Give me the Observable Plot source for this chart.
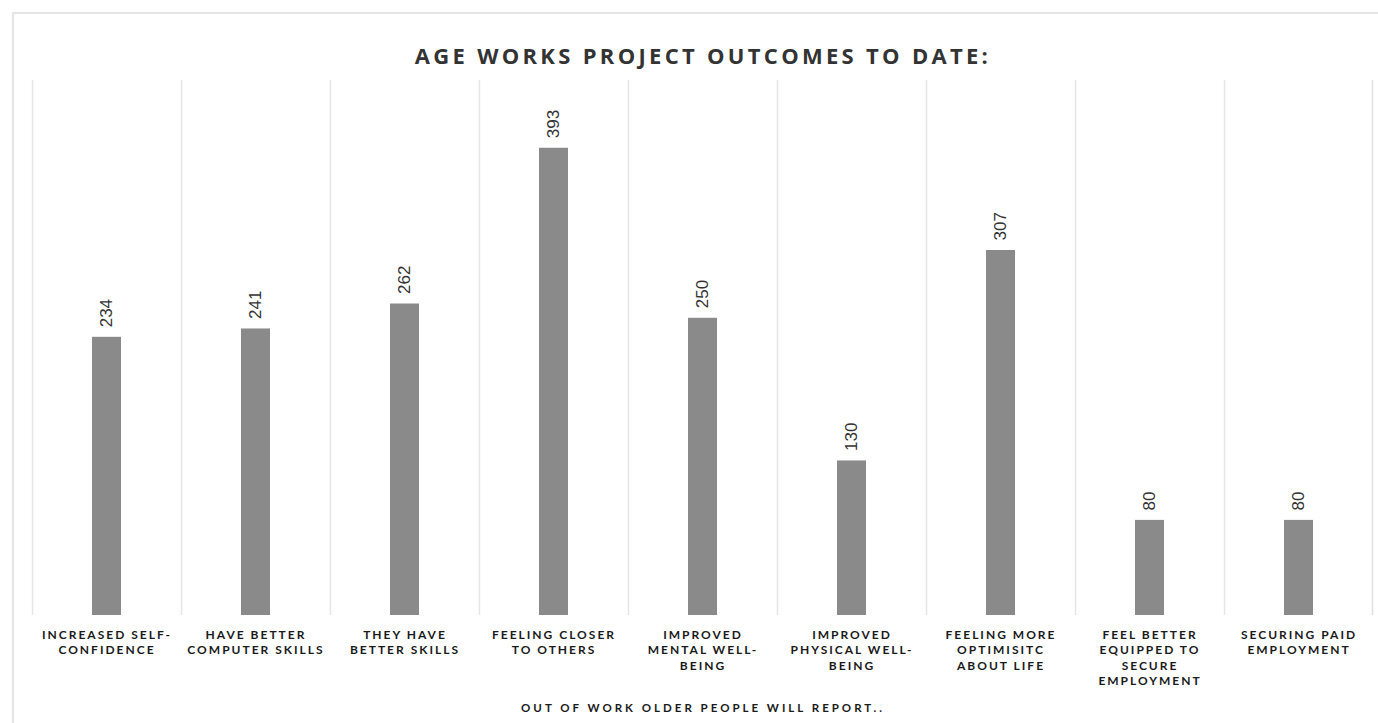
<!DOCTYPE html>
<html>
<head>
<meta charset="utf-8">
<script src="https://cdn.jsdelivr.net/npm/d3@7"></script>
<script src="https://cdn.jsdelivr.net/npm/@observablehq/plot@0.6"></script>
<style>
  html, body { margin: 0; padding: 0; background: #fff; }
  #wrap { position: relative; width: 1378px; height: 723px; overflow: hidden; }
  #border { position: absolute; left: 12px; top: 12px; width: 1380px; height: 740px;
            border-left: 2px solid #e4e4e4; border-top: 2px solid #e4e4e4; box-sizing: border-box; }
  #chart { position: absolute; left: 0; top: 0; }
</style>
</head>
<body>
<div id="wrap">
  <div id="border"></div>
  <div id="chart"></div>
</div>
<script>
const categories = [
  "INCREASED SELF-CONFIDENCE",
  "HAVE BETTER COMPUTER SKILLS",
  "THEY HAVE BETTER SKILLS",
  "FEELING CLOSER TO OTHERS",
  "IMPROVED MENTAL WELL-BEING",
  "IMPROVED PHYSICAL WELL-BEING",
  "FEELING MORE OPTIMISITC ABOUT LIFE",
  "FEEL BETTER EQUIPPED TO SECURE EMPLOYMENT",
  "SECURING PAID EMPLOYMENT"
];
const tickLabels = [
  "INCREASED SELF-\nCONFIDENCE",
  "HAVE BETTER\nCOMPUTER SKILLS",
  "THEY HAVE\nBETTER SKILLS",
  "FEELING CLOSER\nTO OTHERS",
  "IMPROVED\nMENTAL WELL-\nBEING",
  "IMPROVED\nPHYSICAL WELL-\nBEING",
  "FEELING MORE\nOPTIMISITC\nABOUT LIFE",
  "FEEL BETTER\nEQUIPPED TO\nSECURE\nEMPLOYMENT",
  "SECURING PAID\nEMPLOYMENT"
];
const values = [234, 241, 262, 393, 250, 130, 307, 80, 80];
const title = "AGE WORKS PROJECT OUTCOMES TO DATE:";
const xLabel = "OUT OF WORK OLDER PEOPLE WILL REPORT..";

const data = categories.map((c, i) => ({category: c, value: values[i]}));
const labelOf = new Map(categories.map((c, i) => [c, tickLabels[i]]));

const W = 1378, H = 723;
const mL = 32, mR = 5, mT = 80, mB = 108;
const bandW = (W - mL - mR) / categories.length;

const chart = Plot.plot({
  width: W,
  height: H,
  marginLeft: mL,
  marginRight: mR,
  marginTop: mT,
  marginBottom: mB,
  style: {fontFamily: "Lato, 'Open Sans', sans-serif", background: "transparent"},
  x: {domain: categories, padding: 0},
  y: {domain: [0, 450], axis: null},
  marks: [
    Plot.ruleX(categories, {x: d => d, dx: -bandW / 2, stroke: "#e6e6e6", strokeWidth: 1.5}),
    Plot.ruleX(categories.slice(-1), {x: d => d, dx: bandW / 2 - 1, stroke: "#e0e0e0", strokeWidth: 1.5}),
    Plot.barY(data, {x: "category", y: "value", fill: "#8a8a8a", insetLeft: 60, insetRight: 60}),
    Plot.text(data, {
      x: "category", y: "value", text: d => String(d.value),
      rotate: -90, textAnchor: "start", dy: -10,
      fontSize: 17, fill: "#333", fontFamily: "'Liberation Sans', Arial, sans-serif"
    }),
    Plot.axisX({
      tickSize: 0, tickPadding: 12,
      tickFormat: d => labelOf.get(d),
      fontSize: 12, fontWeight: "bold", fill: "#1a1a1a", lineHeight: 1.3,
      label: null
    }),
    Plot.text([xLabel], {
      frameAnchor: "bottom", dy: 96, text: d => d,
      fontSize: 11.5, fontWeight: "bold", fill: "#1a1a1a"
    }),
    Plot.text([title], {
      frameAnchor: "top", dy: -32, text: d => d,
      fontSize: 22, fontWeight: "bold", fill: "#333",
      fontFamily: "'Open Sans', sans-serif"
    })
  ]
});
const svg = d3.select(chart);
svg.selectAll('g[aria-label="x-axis tick label"] text').style("letter-spacing", "2px");
svg.selectAll("text").each(function () {
  const t = this.textContent;
  if (t === title) d3.select(this).style("letter-spacing", "3.3px");
  else if (t === xLabel) d3.select(this).style("letter-spacing", "3px");
});
document.getElementById("chart").appendChild(chart);
</script>
</body>
</html>
